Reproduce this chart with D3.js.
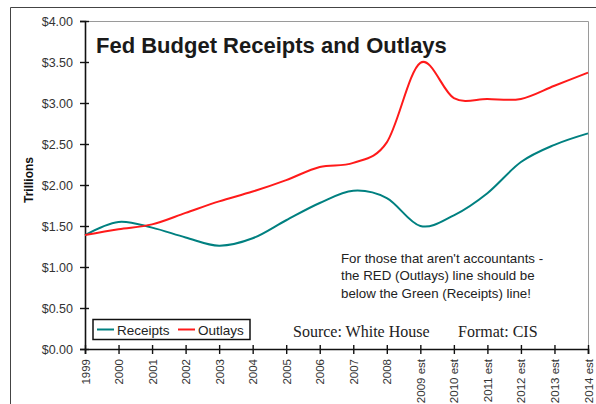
<!DOCTYPE html>
<html>
<head>
<meta charset="utf-8">
<script src="https://cdn.jsdelivr.net/npm/d3@7"></script>
<style>
  html, body { margin: 0; padding: 0; background: #fff; }
  svg { display: block; }
</style>
</head>
<body>
<svg id="chart" width="596" height="404"></svg>
<script>
// Fiscal years (the last six are estimates)
const years = ["1999", "2000", "2001", "2002", "2003", "2004", "2005", "2006",
  "2007", "2008", "2009 est", "2010 est", "2011 est", "2012 est", "2013 est", "2014 est"];

// Trillions of dollars
const receipts = [1.39, 1.55, 1.48, 1.36, 1.26, 1.35, 1.57, 1.78,
  1.93, 1.84, 1.50, 1.63, 1.90, 2.28, 2.49, 2.63];
const outlays = [1.39, 1.46, 1.52, 1.66, 1.80, 1.92, 2.06, 2.22,
  2.27, 2.52, 3.49, 3.06, 3.05, 3.05, 3.21, 3.37];

const yTicks = [0, 0.5, 1, 1.5, 2, 2.5, 3, 3.5, 4];

const seriesNames = ["Receipts", "Outlays"];
const seriesColors = ["#008080", "#ff1a1a"];

const svg = d3.select("#chart");
const plotLeft = 85, plotRight = 588, plotTop = 21, plotBottom = 349;

const x = d3.scalePoint().domain(years).range([plotLeft, plotRight]);
const y = d3.scaleLinear().domain([0, 4]).range([plotBottom, plotTop]);

// Outer chart frame
svg.append("path")
  .attr("d", `M10.5,404 V7.5 H596`)
  .attr("fill", "none").attr("stroke", "#444").attr("stroke-width", 1);

// Plot area frame (top and right)
svg.append("path")
  .attr("d", `M${plotLeft},${plotTop + 0.5} H${plotRight + 0.5} V${plotBottom}`)
  .attr("fill", "none").attr("stroke", "#9a9a9a").attr("stroke-width", 1);

// Y axis
const yAxis = d3.axisLeft(y).tickValues(yTicks)
  .tickFormat(d => "$" + d3.format(".2f")(d))
  .tickSize(5).tickPadding(7);
const gy = svg.append("g").attr("transform", `translate(${plotLeft},0)`).call(yAxis);
gy.select(".domain").attr("stroke", "#111").attr("stroke-width", 1.6);
gy.selectAll(".tick line").attr("x2", -5).attr("x1", 4).attr("stroke", "#111").attr("stroke-width", 1.4);
gy.selectAll(".tick text")
  .attr("font-family", "Liberation Sans, Arial, sans-serif")
  .attr("font-size", 12.5).attr("fill", "#333");

// X axis
const xAxis = d3.axisBottom(x).tickSize(5).tickPadding(0);
const gx = svg.append("g").attr("transform", `translate(0,${plotBottom})`).call(xAxis);
gx.select(".domain").attr("stroke", "#111").attr("stroke-width", 1.6);
gx.selectAll(".tick line").attr("y1", -4).attr("y2", 5).attr("stroke", "#111").attr("stroke-width", 1.4);
gx.selectAll(".tick text")
  .attr("font-family", "Liberation Sans, Arial, sans-serif")
  .attr("font-size", 11.5).attr("fill", "#333")
  .attr("text-anchor", "end")
  .attr("dy", "0.35em")
  .attr("transform", "translate(0,10) rotate(-90)")
  .attr("x", 0).attr("y", 0);

// Y axis title
svg.append("text")
  .attr("transform", "translate(33,180) rotate(-90)")
  .attr("text-anchor", "middle")
  .attr("font-family", "Liberation Sans, Arial, sans-serif")
  .attr("font-weight", "bold").attr("font-size", 12).attr("fill", "#111")
  .text("Trillions");

// Smoothed series lines
const line = d3.line()
  .x((d, i) => x(years[i]))
  .y(d => y(d))
  .curve(d3.curveCardinal.tension(0));

[receipts, outlays].forEach((vals, k) => {
  svg.append("path")
    .datum(vals)
    .attr("d", line)
    .attr("fill", "none")
    .attr("stroke", seriesColors[k])
    .attr("stroke-width", 2)
    .attr("stroke-linejoin", "round");
});

// Chart title
svg.append("text")
  .attr("x", 96).attr("y", 53)
  .attr("font-family", "Liberation Sans, Arial, sans-serif")
  .attr("font-weight", "bold").attr("font-size", 22).attr("fill", "#1a1a1a")
  .text("Fed Budget Receipts and Outlays");

// Legend
const lg = svg.append("g");
lg.append("rect")
  .attr("x", 93).attr("y", 319.5).attr("width", 157).attr("height", 20)
  .attr("fill", "#fff").attr("stroke", "#111").attr("stroke-width", 1.5);
const legendX = [97, 178];
seriesNames.forEach((name, k) => {
  lg.append("line")
    .attr("x1", legendX[k]).attr("x2", legendX[k] + 17)
    .attr("y1", 329.5).attr("y2", 329.5)
    .attr("stroke", seriesColors[k]).attr("stroke-width", 2);
  lg.append("text")
    .attr("x", legendX[k] + 20).attr("y", 334.5)
    .attr("font-family", "Liberation Sans, Arial, sans-serif")
    .attr("font-size", 13.5).attr("fill", "#222")
    .text(name);
});

// Source credits
const credits = [["Source: White House", 293], ["Format: CIS", 458]];
credits.forEach(([t, cx]) => {
  svg.append("text")
    .attr("x", cx).attr("y", 337)
    .attr("font-family", "Liberation Serif, Times New Roman, serif")
    .attr("font-size", 16).attr("fill", "#222")
    .text(t);
});

// Annotation
const note = ["For those that aren't accountants -",
  "the RED (Outlays) line should be",
  "below the Green (Receipts) line!"];
note.forEach((t, i) => {
  svg.append("text")
    .attr("x", 341).attr("y", 263 + i * 17.3)
    .attr("font-family", "Liberation Sans, Arial, sans-serif")
    .attr("font-size", 13.3).attr("fill", "#222")
    .text(t);
});
</script>
</body>
</html>
